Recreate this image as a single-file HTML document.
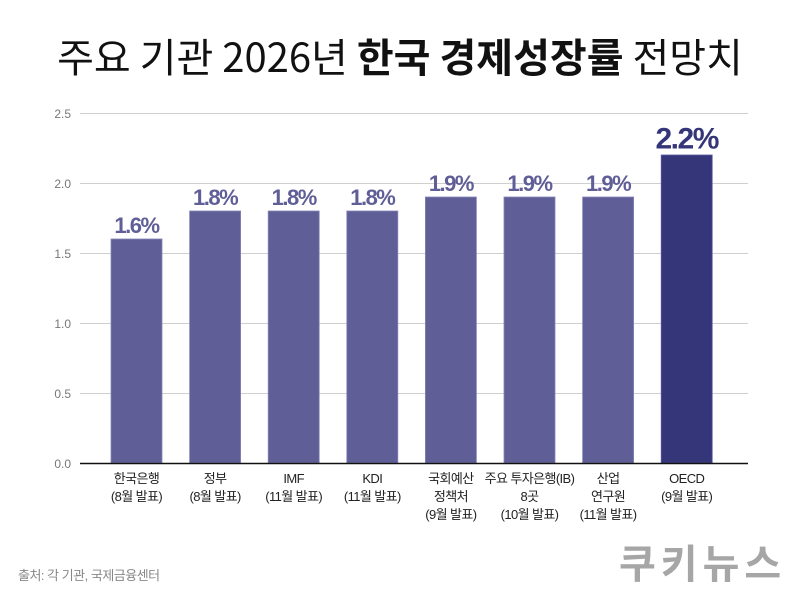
<!DOCTYPE html>
<html>
<head>
<meta charset="utf-8">
<style>
html,body{margin:0;padding:0;background:#fff;}
svg{display:block;}
</style>
</head>
<body>
<svg width="800" height="600" viewBox="0 0 800 600" xmlns="http://www.w3.org/2000/svg">
<rect width="800" height="600" fill="#fff"/>
<!-- title -->
<text x="400" y="72" text-anchor="middle" font-family="'Noto Sans CJK KR',sans-serif" font-size="40" letter-spacing="0" fill="#111"><tspan>주요 기관 2026년 </tspan><tspan font-weight="bold">한국 경제성장률</tspan><tspan> 전망치</tspan></text>

<!-- gridlines -->
<g stroke="#cfcfcf" stroke-width="1">
<line x1="80" y1="113.5" x2="748" y2="113.5"/>
<line x1="80" y1="183.5" x2="748" y2="183.5"/>
<line x1="80" y1="253.5" x2="748" y2="253.5"/>
<line x1="80" y1="323.5" x2="748" y2="323.5"/>
<line x1="80" y1="393.5" x2="748" y2="393.5"/>
</g>

<!-- y tick labels -->
<g font-family="'Liberation Sans',sans-serif" font-size="12" fill="#777" text-anchor="end">
<text x="71" y="118">2.5</text>
<text x="71" y="188">2.0</text>
<text x="71" y="258">1.5</text>
<text x="71" y="328">1.0</text>
<text x="71" y="398">0.5</text>
<text x="71" y="468">0.0</text>
</g>

<!-- bars -->
<g fill="#5f5e96" stroke="#8685b8" stroke-width="0.8">
<rect x="111" y="239" width="51" height="224"/>
<rect x="189.6" y="211" width="51" height="252"/>
<rect x="268.2" y="211" width="51" height="252"/>
<rect x="346.8" y="211" width="51" height="252"/>
<rect x="425.4" y="197" width="51" height="266"/>
<rect x="504" y="197" width="51" height="266"/>
<rect x="582.6" y="197" width="51" height="266"/>
</g>
<rect x="661.2" y="155" width="51" height="308" fill="#35357a" stroke="#5a59a0" stroke-width="0.8"/>

<!-- axis -->
<line x1="80" y1="463.5" x2="748" y2="463.5" stroke="#111" stroke-width="1.5"/>

<!-- value labels -->
<g font-family="'Liberation Sans',sans-serif" font-weight="bold" font-size="22" letter-spacing="-1.5" fill="#5f5e96" text-anchor="middle">
<text x="136.5" y="233">1.6%</text>
<text x="215.1" y="205">1.8%</text>
<text x="293.7" y="205">1.8%</text>
<text x="372.3" y="205">1.8%</text>
<text x="450.9" y="191">1.9%</text>
<text x="529.5" y="191">1.9%</text>
<text x="608.1" y="191">1.9%</text>
</g>
<text x="686.7" y="148.5" font-family="'Liberation Sans',sans-serif" font-weight="bold" font-size="30" letter-spacing="-1.5" fill="#35357a" text-anchor="middle">2.2%</text>

<!-- x labels -->
<g font-family="'Liberation Sans','Noto Sans CJK KR',sans-serif" font-size="13" letter-spacing="-0.6" fill="#222" text-anchor="middle">
<text x="136.5" y="483">한국은행</text>
<text x="136.5" y="501">(8월 발표)</text>
<text x="215.1" y="483">정부</text>
<text x="215.1" y="501">(8월 발표)</text>
<text x="293.7" y="483">IMF</text>
<text x="293.7" y="501">(11월 발표)</text>
<text x="372.3" y="483">KDI</text>
<text x="372.3" y="501">(11월 발표)</text>
<text x="450.9" y="483">국회예산</text>
<text x="450.9" y="501">정책처</text>
<text x="450.9" y="519">(9월 발표)</text>
<text x="529.5" y="483">주요 투자은행(IB)</text>
<text x="529.5" y="501">8곳</text>
<text x="529.5" y="519">(10월 발표)</text>
<text x="608.1" y="483">산업</text>
<text x="608.1" y="501">연구원</text>
<text x="608.1" y="519">(11월 발표)</text>
<text x="686.7" y="483">OECD</text>
<text x="686.7" y="501">(9월 발표)</text>
</g>

<!-- footer -->
<text x="18" y="580" font-family="'Liberation Sans','Noto Sans CJK KR',sans-serif" font-size="13" letter-spacing="-0.5" fill="#888">출처: 각 기관, 국제금융센터</text>
<text x="619" y="578" font-family="'Noto Sans CJK KR',sans-serif" font-weight="bold" font-size="40" letter-spacing="5" fill="#a6a6a6">쿠키뉴스</text>
</svg>
</body>
</html>
